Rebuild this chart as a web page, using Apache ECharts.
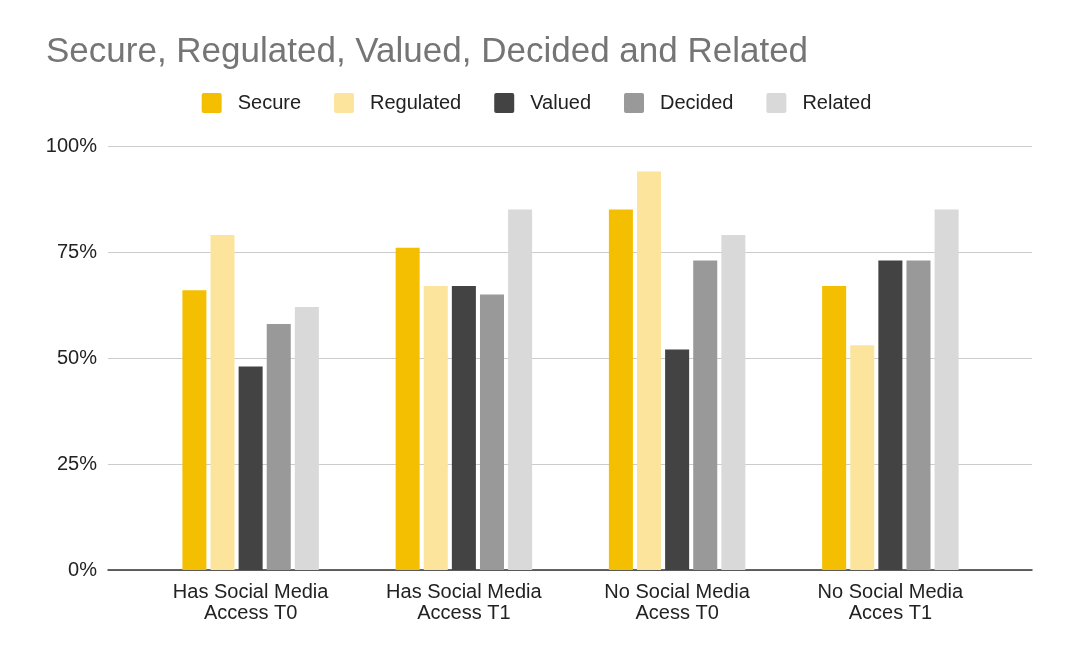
<!DOCTYPE html>
<html>
<head>
<meta charset="utf-8">
<script src="https://cdn.jsdelivr.net/npm/echarts@6/dist/echarts.min.js"></script>
<style>
  html, body { margin: 0; padding: 0; background: #fff; }
  #chart { width: 1073px; height: 650px; }
</style>
</head>
<body>
<div id="chart"></div>
<script>
// data
var categories = ['Has Social Media\nAccess T0', 'Has Social Media\nAccess T1', 'No Social Media\nAcess T0', 'No Social Media\nAcces T1'];
var secure    = [66, 76, 85, 67];
var regulated = [79, 67, 94, 53];
var valued    = [48, 67, 52, 73];
var decided   = [58, 65, 73, 73];
var related   = [62, 85, 79, 85];
var yTicks = [0, 25, 50, 75, 100];

var FONT = 'Arial, "Liberation Sans", sans-serif';
var chart = echarts.init(document.getElementById('chart'));

function bar(name, data) {
    return {
        name: name,
        type: 'bar',
        xAxisIndex: 1,
        yAxisIndex: 1,
        data: data,
        barGap: '17%',
        barCategoryGap: '36%'
    };
}

var option = {
    color: ['#f4bf00', '#fde49c', '#434343', '#999999', '#d9d9d9'],
    title: {
        text: 'Secure, Regulated, Valued, Decided and Related',
        left: 41,
        top: 30,
        textStyle: { fontFamily: FONT, fontSize: 35, fontWeight: 'normal', color: '#757575' }
    },
    legend: {
        top: 88,
        left: 'center',
        itemWidth: 20,
        itemHeight: 20,
        itemGap: 33,
        icon: 'path://M2,0 L18,0 Q20,0 20,2 L20,18 Q20,20 18,20 L2,20 Q0,20 0,18 L0,2 Q0,0 2,0 Z',
        textStyle: { fontFamily: FONT, fontSize: 20, color: '#222', padding: [0, 0, 0, 11] },
        data: ['Secure', 'Regulated', 'Valued', 'Decided', 'Related']
    },
    // outer grid carries the gridlines and the axis line, inner grid the bars
    grid: [
        { left: 108, right: 41, top: 146, bottom: 80 },
        { left: 144, right: 76, top: 146, bottom: 80 }
    ],
    xAxis: [
        {
            gridIndex: 0,
            type: 'category',
            data: [''],
            axisTick: { show: false },
            axisLabel: { show: false },
            axisLine: { lineStyle: { color: '#333', width: 1.5 } }
        },
        {
            gridIndex: 1,
            type: 'category',
            data: categories,
            axisTick: { show: false },
            axisLine: { show: false },
            axisLabel: { fontFamily: FONT, fontSize: 20, color: '#222', lineHeight: 21, margin: 12 }
        }
    ],
    yAxis: [
        {
            gridIndex: 0,
            type: 'value',
            min: yTicks[0],
            max: yTicks[yTicks.length - 1],
            interval: 25,
            axisLabel: { formatter: '{value}%', fontFamily: FONT, fontSize: 20, color: '#222', margin: 11 },
            splitLine: { lineStyle: { color: '#cccccc', width: 1.2 } }
        },
        {
            gridIndex: 1,
            type: 'value',
            min: yTicks[0],
            max: yTicks[yTicks.length - 1],
            interval: 25,
            axisLabel: { show: false },
            splitLine: { show: false }
        }
    ],
    series: [
        bar('Secure', secure),
        bar('Regulated', regulated),
        bar('Valued', valued),
        bar('Decided', decided),
        bar('Related', related)
    ]
};

chart.setOption(option);
</script>
</body>
</html>
